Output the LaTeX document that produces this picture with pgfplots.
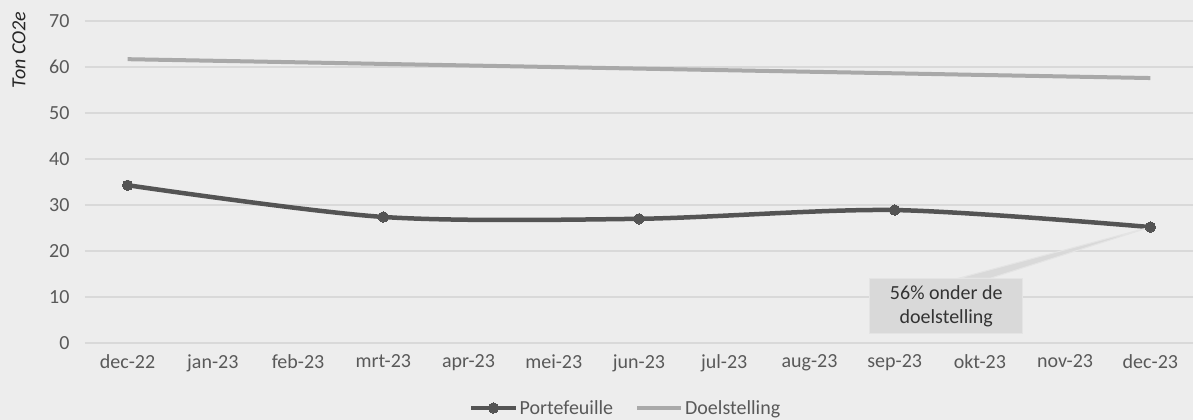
\documentclass[border=0pt]{standalone}
\usepackage{fontspec}
\setmainfont{Carlito}
\usepackage{pgfplots}
\pgfplotsset{compat=1.18}
\definecolor{bg}{HTML}{EDEDED}
\definecolor{gridc}{HTML}{D9D9D9}
\definecolor{txt}{HTML}{595959}
\definecolor{port}{HTML}{545454}
\definecolor{doel}{HTML}{A9A9A9}
\definecolor{callfill}{HTML}{D9D9D9}
\definecolor{callline}{HTML}{E4E4E4}
\newcommand{\lbl}{\fontsize{20bp}{24bp}\selectfont}
\begin{document}
\begin{tikzpicture}
\path[use as bounding box, fill=bg] (-85bp,-77bp) rectangle (1108bp,343bp);
\begin{axis}[
  scale only axis,
  width=1108bp, height=322bp,
  xmin=-0.5, xmax=12.5, ymin=0, ymax=70,
  xtick={0,...,12},
  xticklabels={dec-22,jan-23,feb-23,mrt-23,apr-23,mei-23,jun-23,jul-23,aug-23,sep-23,okt-23,nov-23,dec-23},
  ytick={0,10,...,70},
  major tick length=0pt,
  axis line style={draw=none},
  ymajorgrids,
  grid style={color=gridc, line width=1.3bp},
  /pgf/number format/assume math mode=true,
  tick label style={font=\lbl, text=txt},
  yticklabel style={xshift=-12bp},
  xticklabel style={yshift=-8bp},
  clip=false,
  legend style={at={(rel axis cs:0.488,0)}, anchor=center, yshift=-65bp,
    draw=none, fill=none, font=\lbl, text=txt,
    /tikz/every even column/.append style={column sep=20bp}},
  legend columns=2,
  legend image code/.code={\draw[#1, mark repeat=2, mark phase=2] plot coordinates {(0bp,0bp) (22bp,0bp) (44bp,0bp)};},
]
\addplot[color=port, line width=4.5bp, smooth, mark=*, mark size=5.2bp,
  mark options={solid, fill=port, draw=port, line width=0pt}]
  coordinates {(0,34.3) (3,27.4) (6,27.0) (9,28.9) (12,25.2)};
\addlegendentry{Portefeuille}
\addplot[color=doel, line width=4bp, no marks]
  coordinates {(0,61.70) (1,61.36) (2,61.02) (3,60.67) (4,60.33) (5,59.99) (6,59.65)
               (7,59.31) (8,58.97) (9,58.63) (10,58.28) (11,57.94) (12,57.60)};
\addlegendentry{Doelstelling}
% callout for the last data point
\filldraw[fill=callfill, draw=callline, line width=1bp]
  (axis cs:9.76,14.13) -- (axis cs:12,25.2) -- (axis cs:10.13,14.13) -- cycle;
\filldraw[fill=callfill, draw=callline, line width=1bp]
  (axis cs:8.71,1.96) rectangle (axis cs:10.50,14.13);
\node[font=\lbl, text=black!80, align=center] at (axis cs:9.605,8.05)
  {56\% onder de\\doelstelling};
\node[rotate=90, font=\lbl\itshape, text=black!85] at ([xshift=-66bp]rel axis cs:0,0.91) {Ton CO2e};
\end{axis}
\end{tikzpicture}
\end{document}
